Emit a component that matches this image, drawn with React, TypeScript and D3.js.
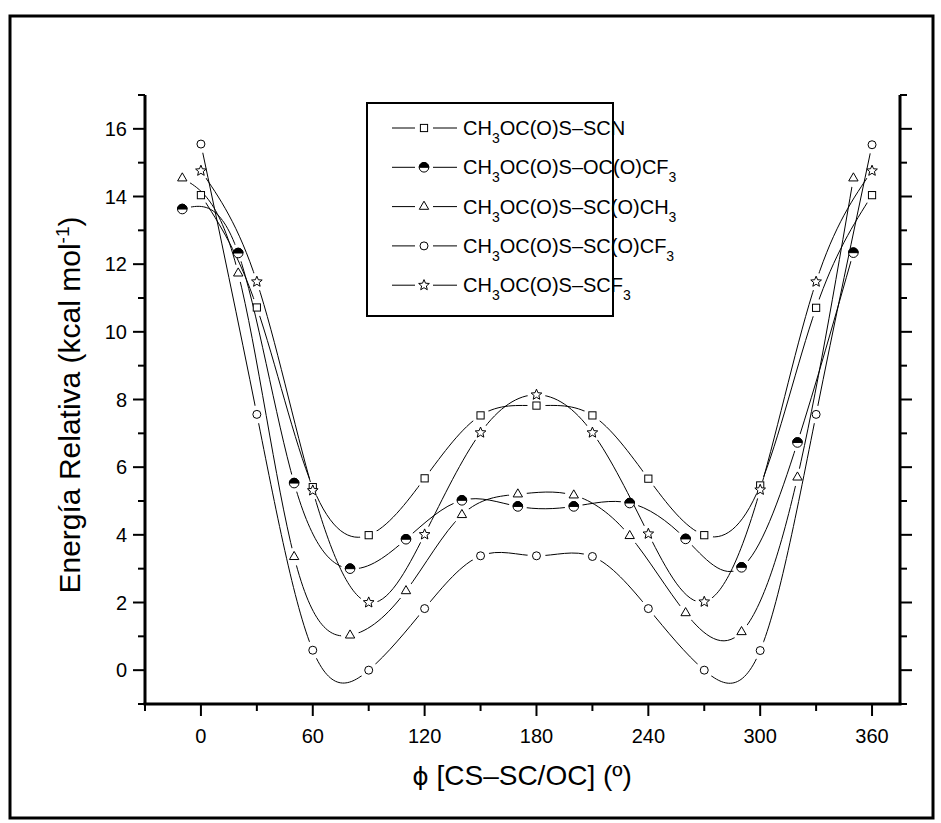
import React, { useRef, useEffect } from "react";
import * as d3 from "d3";

// dihedral angles (deg)
const anglesA = [0, 30, 60, 90, 120, 150, 180, 210, 240, 270, 300, 330, 360];
const anglesB = [-10, 20, 50, 80, 110, 140, 170, 200, 230, 260, 290, 320, 350];

// relative energies (kcal/mol)
const scnValues = [14.04, 10.72, 5.41, 3.99, 5.67, 7.53, 7.82, 7.53, 5.66, 3.99, 5.46, 10.71, 14.04];
const ocCf3Values = [13.63, 12.33, 5.53, 3.0, 3.87, 5.02, 4.84, 4.84, 4.94, 3.88, 3.04, 6.73, 12.34];
const scCh3Values = [14.54, 11.73, 3.35, 1.03, 2.34, 4.59, 5.2, 5.17, 3.97, 1.69, 1.13, 5.7, 14.54];
const scCf3Values = [15.55, 7.56, 0.59, 0.0, 1.82, 3.38, 3.38, 3.36, 1.82, 0.0, 0.58, 7.56, 15.53];
const sCf3Values = [14.76, 11.48, 5.31, 2.0, 4.01, 7.02, 8.14, 7.02, 4.03, 2.02, 5.33, 11.48, 14.76];

// legend labels: pieces alternate normal / subscript
const legendLabels = [
  ["CH", "3", "OC(O)S–SCN"],
  ["CH", "3", "OC(O)S–OC(O)CF", "3"],
  ["CH", "3", "OC(O)S–SC(O)CH", "3"],
  ["CH", "3", "OC(O)S–SC(O)CF", "3"],
  ["CH", "3", "OC(O)S–SCF", "3"],
];

const xMajorTicks = [0, 60, 120, 180, 240, 300, 360];
const xMinorTicks = [-30, 30, 90, 150, 210, 270, 330];
const yMajorTicks = [0, 2, 4, 6, 8, 10, 12, 14, 16];
const yMinorTicks = [-1, 1, 3, 5, 7, 9, 11, 13, 15, 17];

const series = [
  { key: "scn", x: anglesA, y: scnValues, marker: "square" },
  { key: "occf3", x: anglesB, y: ocCf3Values, marker: "half" },
  { key: "scch3", x: anglesB, y: scCh3Values, marker: "triangle" },
  { key: "sccf3", x: anglesA, y: scCf3Values, marker: "circle" },
  { key: "scf3", x: anglesA, y: sCf3Values, marker: "star" },
];

const W = 941;
const H = 823;
const font = "'Liberation Sans', Arial, sans-serif";

function starPath(ro, ri) {
  const pts = [];
  for (let i = 0; i < 10; i++) {
    const r = i % 2 === 0 ? ro : ri;
    const a = -Math.PI / 2 + (i * Math.PI) / 5;
    pts.push([r * Math.cos(a), r * Math.sin(a)]);
  }
  return "M" + pts.map(p => p[0].toFixed(2) + "," + p[1].toFixed(2)).join("L") + "Z";
}

function drawMarker(g, type, cx, cy) {
  const m = g.append("g").attr("transform", `translate(${cx},${cy})`)
    .attr("fill", "#fff").attr("stroke", "#000").attr("stroke-width", 1);
  if (type === "square") {
    m.append("rect").attr("x", -3.6).attr("y", -3.6).attr("width", 7.2).attr("height", 7.2);
  } else if (type === "circle") {
    m.append("circle").attr("r", 4);
  } else if (type === "triangle") {
    m.append("path").attr("d", d3.symbol(d3.symbolTriangle, 38)());
  } else if (type === "star") {
    m.append("path").attr("d", starPath(5.6, 2.5));
  } else if (type === "half") {
    m.append("circle").attr("r", 4.8);
    m.append("path").attr("d", "M-4.8,0A4.8,4.8 0 0 1 4.8,0Z").attr("fill", "#000");
  }
}

const App = () => {
  const svgRef = useRef(null);

  useEffect(() => {
    const svg = d3.select(svgRef.current);
    svg.selectAll("*").remove();

    const left = 145, right = 900, top = 95, bottom = 704;
    const x = d3.scaleLinear().domain([-30, 375]).range([left, right]);
    const y = d3.scaleLinear().domain([-1, 17]).range([bottom, top]);

    // outer frame
    svg.append("rect")
      .attr("x", 10).attr("y", 16).attr("width", 923).attr("height", 802)
      .attr("fill", "none").attr("stroke", "#000").attr("stroke-width", 3);

    const defs = svg.append("defs");

    // curves, with gaps round each marker
    series.forEach(s => {
      const pts = s.x.map((v, i) => [x(v), y(s.y[i])]);
      const mask = defs.append("mask").attr("id", "gap-" + s.key)
        .attr("maskUnits", "userSpaceOnUse")
        .attr("x", 0).attr("y", 0).attr("width", W).attr("height", H);
      mask.append("rect").attr("width", W).attr("height", H).attr("fill", "#fff");
      pts.forEach(p => mask.append("circle").attr("cx", p[0]).attr("cy", p[1]).attr("r", 9).attr("fill", "#000"));

      const line = d3.line().curve(d3.curveNatural);
      svg.append("path")
        .attr("d", line(pts))
        .attr("fill", "none")
        .attr("stroke", "#000")
        .attr("stroke-width", 1)
        .attr("mask", `url(#gap-${s.key})`);
    });

    // markers
    const mg = svg.append("g");
    series.forEach(s => {
      s.x.forEach((v, i) => drawMarker(mg, s.marker, x(v), y(s.y[i])));
    });

    // axes
    const ax = svg.append("g").attr("stroke", "#000");
    ax.append("line").attr("x1", left - 1.5).attr("x2", right + 1.5).attr("y1", bottom).attr("y2", bottom).attr("stroke-width", 3);
    ax.append("line").attr("x1", left).attr("x2", left).attr("y1", top).attr("y2", bottom).attr("stroke-width", 3);
    ax.append("line").attr("x1", right).attr("x2", right).attr("y1", top).attr("y2", bottom).attr("stroke-width", 3);

    xMajorTicks.forEach(t => ax.append("line").attr("x1", x(t)).attr("x2", x(t)).attr("y1", bottom).attr("y2", bottom + 12).attr("stroke-width", 2));
    xMinorTicks.forEach(t => ax.append("line").attr("x1", x(t)).attr("x2", x(t)).attr("y1", bottom).attr("y2", bottom + 7).attr("stroke-width", 2));
    [left, right].forEach((xx, k) => {
      const dir = k === 0 ? -1 : 1;
      yMajorTicks.forEach(t => ax.append("line").attr("x1", xx).attr("x2", xx + dir * 12).attr("y1", y(t)).attr("y2", y(t)).attr("stroke-width", 2));
      yMinorTicks.forEach(t => ax.append("line").attr("x1", xx).attr("x2", xx + dir * 7).attr("y1", y(t)).attr("y2", y(t)).attr("stroke-width", 2));
    });

    const tl = svg.append("g").attr("font-family", font).attr("font-size", 20).attr("fill", "#000");
    xMajorTicks.forEach(t => tl.append("text").attr("x", x(t)).attr("y", 743).attr("text-anchor", "middle").text(t));
    yMajorTicks.forEach(t => tl.append("text").attr("x", 127).attr("y", y(t) + 7).attr("text-anchor", "end").text(t));

    // axis titles
    const xt = svg.append("text")
      .attr("x", 522).attr("y", 785)
      .attr("text-anchor", "middle")
      .attr("font-family", font).attr("font-size", 28);
    xt.append("tspan").attr("font-family", "'DejaVu Sans', sans-serif").attr("font-size", 25).text("ϕ");
    xt.append("tspan").text(" [CS–SC/OC] (º)");

    const yt = svg.append("text")
      .attr("transform", "translate(80,405) rotate(-90)")
      .attr("text-anchor", "middle")
      .attr("font-family", font).attr("font-size", 30);
    yt.append("tspan").text("Energía Relativa (kcal mol");
    yt.append("tspan").attr("dy", -11).attr("font-size", 19).text("-1");
    yt.append("tspan").attr("dy", 11).text(")");

    // legend
    const lg = svg.append("g");
    lg.append("rect")
      .attr("x", 367).attr("y", 103).attr("width", 246).attr("height", 213)
      .attr("fill", "#fff").attr("stroke", "#000").attr("stroke-width", 2);
    legendLabels.forEach((pieces, i) => {
      const cy = 128 + i * 39.3;
      lg.append("line").attr("x1", 392).attr("x2", 415).attr("y1", cy).attr("y2", cy).attr("stroke", "#000").attr("stroke-width", 1);
      lg.append("line").attr("x1", 433).attr("x2", 457).attr("y1", cy).attr("y2", cy).attr("stroke", "#000").attr("stroke-width", 1);
      drawMarker(lg, series[i].marker, 424, cy);
      const t = lg.append("text").attr("x", 463).attr("y", cy + 7)
        .attr("font-family", font).attr("font-size", 20);
      pieces.forEach((p, k) => {
        const isSub = k % 2 === 1;
        const ts = t.append("tspan").text(p);
        if (isSub) ts.attr("font-size", 14).attr("dy", 8);
        else if (k > 0) ts.attr("dy", -8);
      });
    });
  }, []);

  return (
    <div style={{ position: "absolute", left: 0, top: 0 }}>
      <svg ref={svgRef} width={W} height={H} style={{ display: "block", background: "#fff" }}></svg>
    </div>
  );
};

export default App;
